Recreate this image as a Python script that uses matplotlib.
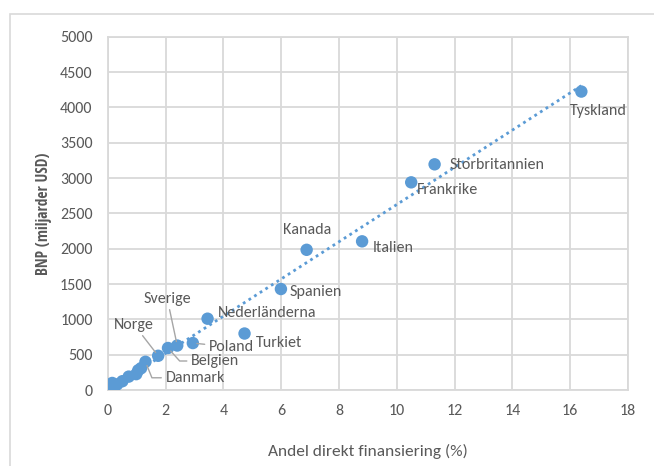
#!/usr/bin/env python3

import matplotlib.pyplot as plt
import numpy as np
from matplotlib.patches import Rectangle

plt.rcParams['font.family'] = ['Carlito', 'DejaVu Sans']

# andel direkt finansiering (%) and BNP (miljarder USD)
countries = ["Tyskland", "Storbritannien", "Frankrike", "Italien", "Kanada", "Spanien",
             "Nederländerna", "Turkiet", "Poland", "Sverige", "Belgien", "Norge", "Danmark"]
share = [16.39, 11.31, 10.50, 8.80, 6.88, 5.99, 3.45, 4.73, 2.94, 2.40, 2.08, 1.74, 1.30]
gdp = [4225, 3195, 2940, 2105, 1985, 1430, 1010, 800, 665, 630, 595, 485, 400]

# smaller countries, no labels
other_share = [1.15, 1.05, 0.98, 0.72, 0.50, 0.32, 0.15, 0.22, 0.06, 0.02, 0.10]
other_gdp = [310, 280, 225, 190, 125, 80, 100, 55, 35, 5, 15]

# label placement: offset in pixels from point, alignment, leader line
label_style = {
    "Tyskland": ((-11, -19), "left", None),
    "Storbritannien": ((15, -1), "left", None),
    "Frankrike": ((6, -8), "left", None),
    "Italien": ((11, -7), "left", None),
    "Kanada": ((0, 20), "center", None),
    "Spanien": ((9, -3), "left", None),
    "Nederländerna": ((10, 6), "left", None),
    "Turkiet": ((11, -9), "left", None),
    "Poland": ((16, -4), "left", "arc3"),
    "Sverige": ((-10, 47), "center", "arc3"),
    "Belgien": ((23, -13), "left", "angle,angleA=0,angleB=-48,rad=0"),
    "Norge": ((-24, 31), "center", "arc3"),
    "Danmark": ((20, -16), "left", "angle,angleA=0,angleB=-68,rad=0"),
}

blue = "#5B9BD5"
grey_text = "#595959"
grid_col = "#D9D9D9"

fig = plt.figure(figsize=(6.54, 4.66), dpi=100)
ax = fig.add_axes([0.165, 0.163, 0.795, 0.758])

# outer chart border
fig.patches.append(Rectangle((10 / 654, -0.1), 1.1, 1 - 14 / 466 + 0.1, transform=fig.transFigure,
                             fill=False, edgecolor=grid_col, linewidth=1.2))

all_x = np.array(share + other_share)
all_y = np.array(gdp + other_gdp)

# linear trendline
k, m = np.polyfit(all_x, all_y, 1)
tx = np.array([all_x.min(), all_x.max()])
ax.plot(tx, k * tx + m, linestyle=(0, (1, 1.4)), color=blue, linewidth=2, zorder=2)

ax.scatter(all_x, all_y, s=80, color=blue, edgecolors="none", zorder=3)

px = 0.72  # points per pixel
for name, x, y in zip(countries, share, gdp):
    (dx, dy), ha, conn = label_style[name]
    arrow = None
    if conn is not None:
        arrow = dict(arrowstyle="-", color="#A6A6A6", lw=1, connectionstyle=conn,
                     shrinkA=1, shrinkB=3)
    ax.annotate(name, (x, y), xytext=(dx * px, dy * px), textcoords="offset points",
                ha=ha, va="center", fontsize=11.5, color=grey_text, arrowprops=arrow, zorder=4)

ax.set_xlim(0, 18)
ax.set_ylim(0, 5000)
ax.set_xticks(np.arange(0, 19, 2))
ax.set_yticks(np.arange(0, 5001, 500))
ax.grid(True, color=grid_col, linewidth=1.3)
ax.set_axisbelow(True)
for sp in ax.spines.values():
    sp.set_color(grid_col)
    sp.set_linewidth(1.3)
ax.tick_params(length=0, labelsize=11.5, labelcolor=grey_text)
ax.tick_params(axis="y", pad=11)
ax.tick_params(axis="x", pad=10)

ax.set_xlabel("Andel direkt finansiering (%)", fontsize=12.5, color=grey_text)
ax.xaxis.set_label_coords(0.5, -0.152)
ax.set_ylabel("BNP (miljarder USD)", fontsize=11.2, color=grey_text,
              family=["Open Sans Condensed", "DejaVu Sans"], fontweight="semibold")
ax.yaxis.set_label_coords(-0.108, 0.5)

plt.savefig("out.png", dpi=100)
